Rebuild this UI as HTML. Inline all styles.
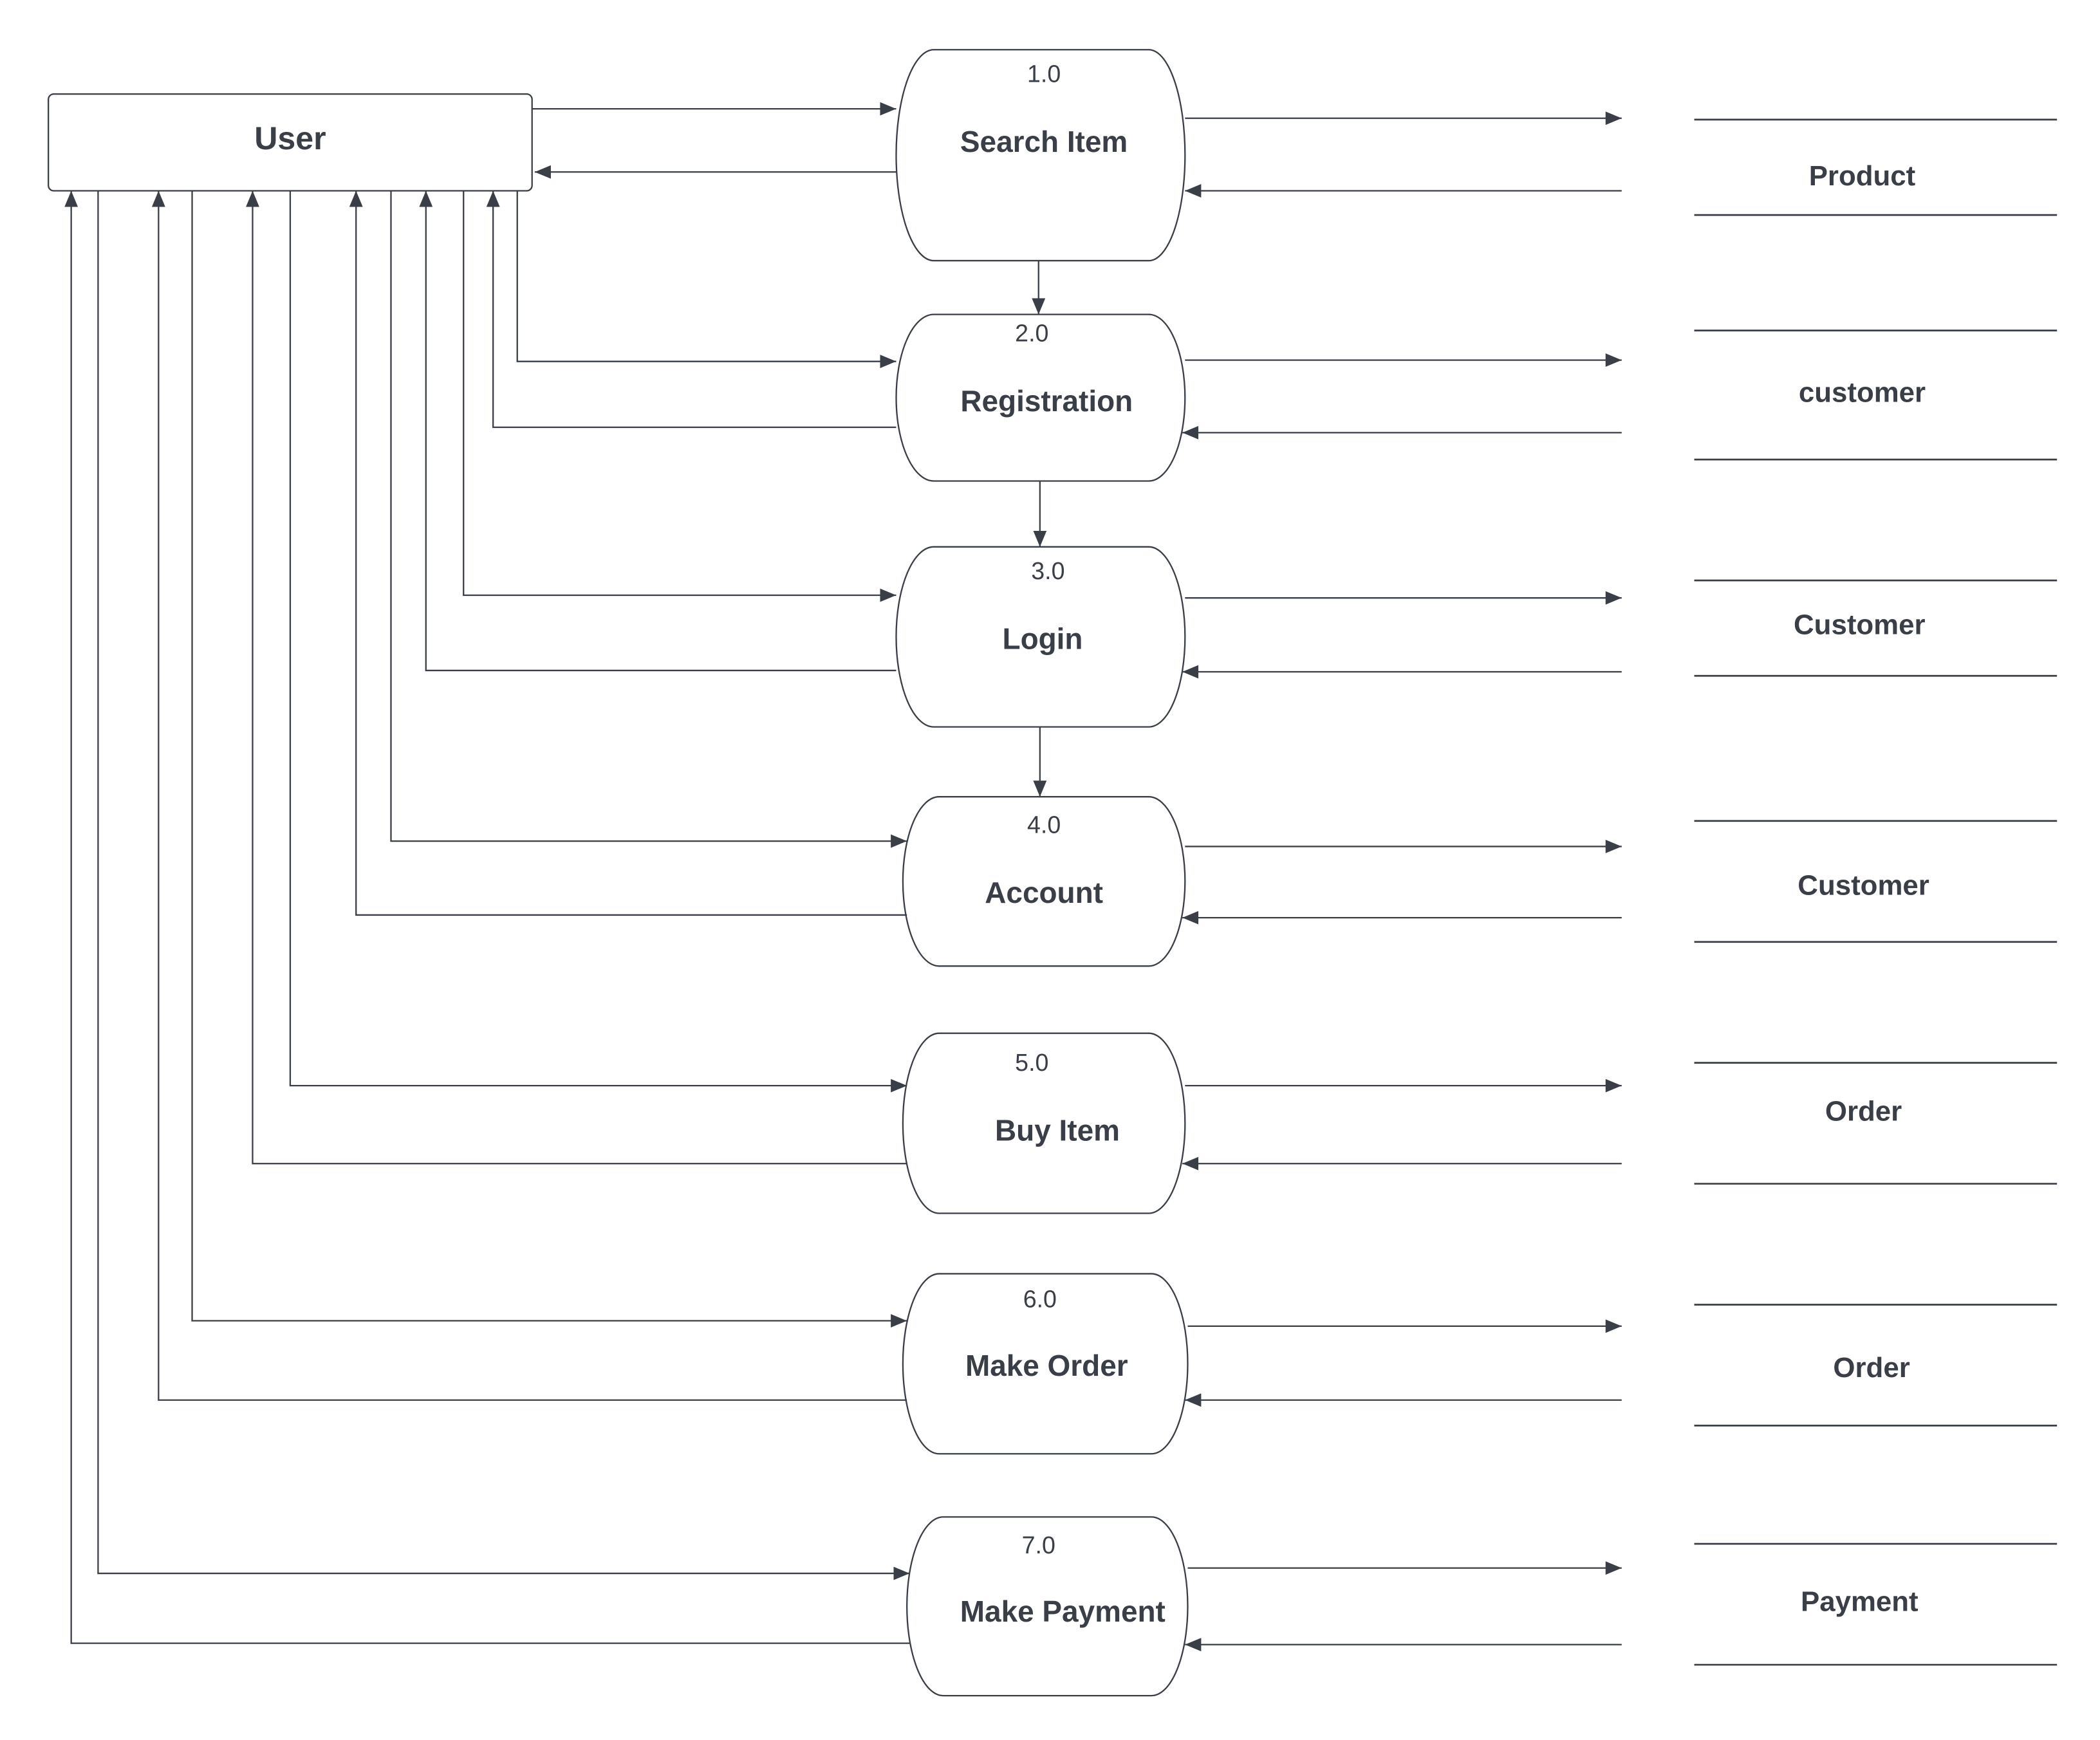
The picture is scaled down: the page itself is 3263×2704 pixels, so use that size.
<!DOCTYPE html>
<html><head><meta charset="utf-8"><style>
html,body{margin:0;padding:0;background:#fff;}
svg{display:block;}
text{font-family:"Liberation Sans",sans-serif;fill:#3a3f47;}
.t{font-weight:bold;font-size:22px;}
.n{font-size:18px;}
.d{font-weight:bold;font-size:21px;}
</style></head><body>
<svg width="3263" height="2704" viewBox="0 0 1563 1295" preserveAspectRatio="none" xmlns="http://www.w3.org/2000/svg">
<defs>
<marker id="a" viewBox="0 0 12 10" refX="12" refY="5" markerWidth="12" markerHeight="10" markerUnits="userSpaceOnUse" orient="auto">
<path d="M0,0 L12,5 L0,10 Z" fill="#3a3f47"/></marker>
</defs>
<g fill="none" stroke="#3a3f47" stroke-width="1.1">
<rect x="36" y="70" width="360" height="72" rx="4"/>
<path d="M695,37 H855 A27,78.5 0 0 1 855,194 H695 A28,78.5 0 0 1 695,37 Z"/>
<path d="M695,234 H855 A27,62 0 0 1 855,358 H695 A28,62 0 0 1 695,234 Z"/>
<path d="M695,407 H855 A27,67 0 0 1 855,541 H695 A28,67 0 0 1 695,407 Z"/>
<path d="M699,593 H855 A27,63 0 0 1 855,719 H699 A27,63 0 0 1 699,593 Z"/>
<path d="M699,769 H855 A27,67 0 0 1 855,903 H699 A27,67 0 0 1 699,769 Z"/>
<path d="M699,948 H857 A27,67 0 0 1 857,1082 H699 A27,67 0 0 1 699,948 Z"/>
<path d="M702,1129 H857 A27,66.5 0 0 1 857,1262 H702 A27,66.5 0 0 1 702,1129 Z"/>
</g>
<g stroke="#3a3f47" stroke-width="1.3">
<line x1="1261" y1="89" x2="1531" y2="89"/><line x1="1261" y1="160" x2="1531" y2="160"/>
<line x1="1261" y1="246" x2="1531" y2="246"/><line x1="1261" y1="342" x2="1531" y2="342"/>
<line x1="1261" y1="432" x2="1531" y2="432"/><line x1="1261" y1="503" x2="1531" y2="503"/>
<line x1="1261" y1="611" x2="1531" y2="611"/><line x1="1261" y1="701" x2="1531" y2="701"/>
<line x1="1261" y1="791" x2="1531" y2="791"/><line x1="1261" y1="881" x2="1531" y2="881"/>
<line x1="1261" y1="971" x2="1531" y2="971"/><line x1="1261" y1="1061" x2="1531" y2="1061"/>
<line x1="1261" y1="1149" x2="1531" y2="1149"/><line x1="1261" y1="1239" x2="1531" y2="1239"/>
</g>
<g fill="none" stroke="#3a3f47" stroke-width="1.1" marker-end="url(#a)">
<path d="M882,88 H1207"/><path d="M1207,142 H882"/>
<path d="M882,268 H1207"/><path d="M1207,322 H880"/>
<path d="M882,445 H1207"/><path d="M1207,500 H880"/>
<path d="M882,630 H1207"/><path d="M1207,683 H880"/>
<path d="M882,808 H1207"/><path d="M1207,866 H880"/>
<path d="M884,987 H1207"/><path d="M1207,1042 H882"/>
<path d="M884,1167 H1207"/><path d="M1207,1224 H882"/>
<path d="M773,194 V234"/><path d="M774,358 V407"/><path d="M774,541 V593"/>
<path d="M396,81 H667"/><path d="M667,128 H398"/>
<path d="M385,142 V269 H667"/><path d="M667,318 H367 V142"/>
<path d="M345,142 V443 H667"/><path d="M667,499 H317 V142"/>
<path d="M291,142 V626 H675"/><path d="M675,681 H265 V142"/>
<path d="M216,142 V808 H675"/><path d="M675,866 H188 V142"/>
<path d="M143,142 V983 H675"/><path d="M675,1042 H118 V142"/>
<path d="M73,142 V1171 H677"/><path d="M677,1223 H53 V142"/>
</g>
<text class="t" x="216" y="111" text-anchor="middle" style="font-size:24px">User</text>
<g text-anchor="middle">
<text class="n" x="777" y="61">1.0</text><text class="t" x="777" y="113">Search Item</text>
<text class="n" x="768" y="254">2.0</text><text class="t" x="779" y="306">Registration</text>
<text class="n" x="780" y="431">3.0</text><text class="t" x="776" y="483">Login</text>
<text class="n" x="777" y="620">4.0</text><text class="t" x="777" y="672">Account</text>
<text class="n" x="768" y="797">5.0</text><text class="t" x="787" y="849">Buy Item</text>
<text class="n" x="774" y="973">6.0</text><text class="t" x="779" y="1024">Make Order</text>
<text class="n" x="773" y="1156">7.0</text><text class="t" x="791" y="1207">Make Payment</text>
<text class="d" x="1386" y="138">Product</text>
<text class="d" x="1386" y="299">customer</text>
<text class="d" x="1384" y="472">Customer</text>
<text class="d" x="1387" y="666">Customer</text>
<text class="d" x="1387" y="834">Order</text>
<text class="d" x="1393" y="1025">Order</text>
<text class="d" x="1384" y="1199">Payment</text>
</g>
</svg>
</body></html>
